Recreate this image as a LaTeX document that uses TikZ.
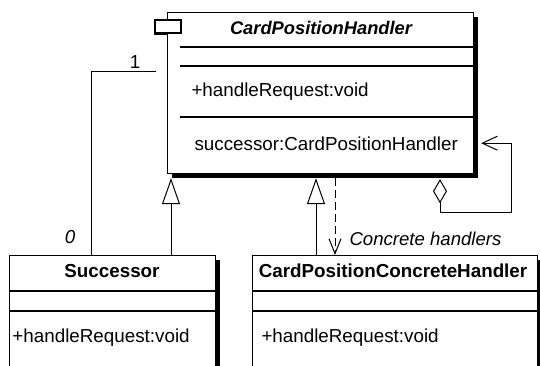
\documentclass[tikz,border=0pt]{standalone}
\usepackage{fontspec}
\setmainfont{Liberation Sans}
\usetikzlibrary{arrows.meta}
\usetikzlibrary{shadows}

\tikzset{
	umlclass/.style={draw, line width=1.2pt, fill=white, inner sep=0pt, anchor=north west,
			drop shadow={shadow xshift=4pt, shadow yshift=-4pt, fill=black, opacity=1}},
	umltext/.style={inner sep=0pt, font=\fontsize{18.8}{22}\selectfont},
	gen/.style={-{Triangle[open, length=26pt, width=18pt]}},
	dep/.style={dash pattern=on 8pt off 4pt, -{Straight Barb[length=15pt, width=12pt]}},
	agg/.style={{Diamond[open, length=24pt, width=14pt]}-{Straight Barb[length=15pt, width=14pt]}}
}

\begin{document}
\begin{tikzpicture}[x=1pt, y=-1pt, line width=1pt]
	\clip (0,0) rectangle (540,366);

	% abstract handler
	\node[umlclass, minimum width=306pt, minimum height=161pt] (handler) at (167,12) {};
	\draw[line width=1.2pt] ([xshift=13pt, yshift=-35pt]handler.north west) -- ([yshift=-35pt]handler.north east);
	\draw[line width=1.2pt] ([xshift=13pt, yshift=-54pt]handler.north west) -- ([yshift=-54pt]handler.north east);
	\draw[line width=1.2pt] ([xshift=13pt, yshift=-105pt]handler.north west) -- ([yshift=-105pt]handler.north east);
	\node[draw, fill=white, line width=1.2pt, inner sep=0pt, minimum width=26pt, minimum height=13pt] (icon) at (168,26.5) {};
	\draw[line width=2.5pt] (icon.south west) -- (icon.south);
	\node[umltext, font=\fontsize{18.3}{22}\selectfont\bfseries\itshape] (handlerName) at (321,28) {CardPositionHandler};
	\node[umltext, anchor=west] (handlerOp) at (191,92) {+handleRequest:void};
	\node[umltext, anchor=west] (handlerAttr) at (194,144) {successor:CardPositionHandler};

	% successor
	\node[umlclass, minimum width=206pt, minimum height=140pt] (succ) at (9,255) {};
	\draw[line width=1.2pt] ([yshift=-36pt]succ.north west) -- ([yshift=-36pt]succ.north east);
	\draw[line width=1.2pt] ([yshift=-56pt]succ.north west) -- ([yshift=-56pt]succ.north east);
	\node[umltext, font=\fontsize{18.8}{22}\selectfont\bfseries] (succName) at (112,271) {Successor};
	\node[umltext, anchor=west] (succOp) at (12,338) {+handleRequest:void};

	% concrete handler
	\node[umlclass, minimum width=285pt, minimum height=140pt] (conc) at (252,255) {};
	\draw[line width=1.2pt] ([yshift=-36pt]conc.north west) -- ([yshift=-36pt]conc.north east);
	\draw[line width=1.2pt] ([yshift=-56pt]conc.north west) -- ([yshift=-56pt]conc.north east);
	\node[umltext, font=\fontsize{18.8}{22}\selectfont\bfseries] (concName) at (393,271) {CardPositionConcreteHandler};
	\node[umltext, anchor=west] (concOp) at (261,338) {+handleRequest:void};

	% association successor -> handler
	\coordinate (assocEnd) at (156,72);
	\draw ([xshift=82pt]succ.north west) |- (assocEnd);
	\node[umltext] (multOne) at (135,62) {1};
	\node[umltext, font=\fontsize{18.8}{22}\selectfont\itshape] (multZero) at (70,237) {0};

	% inheritance
	\draw[gen] ([xshift=162pt]succ.north west) -- ([xshift=4pt, yshift=-4pt]handler.south west);
	\draw[gen] ([xshift=64pt]conc.north west) -- ([xshift=149pt, yshift=-4pt]handler.south west);

	% dependency
	\draw[dep] ([xshift=168pt, yshift=-4pt]handler.south west) -- ([xshift=83pt]conc.north west);
	\node[umltext, anchor=west, font=\fontsize{18.6}{22}\selectfont\itshape] (depLabel) at (349,239) {Concrete handlers};

	% self aggregation
	\coordinate (loopCorner) at (511,212);
	\draw[agg] ([xshift=273pt, yshift=-5pt]handler.south west) |- (loopCorner) |- ([xshift=7pt, yshift=31pt]handler.south east);
\end{tikzpicture}
\end{document}
